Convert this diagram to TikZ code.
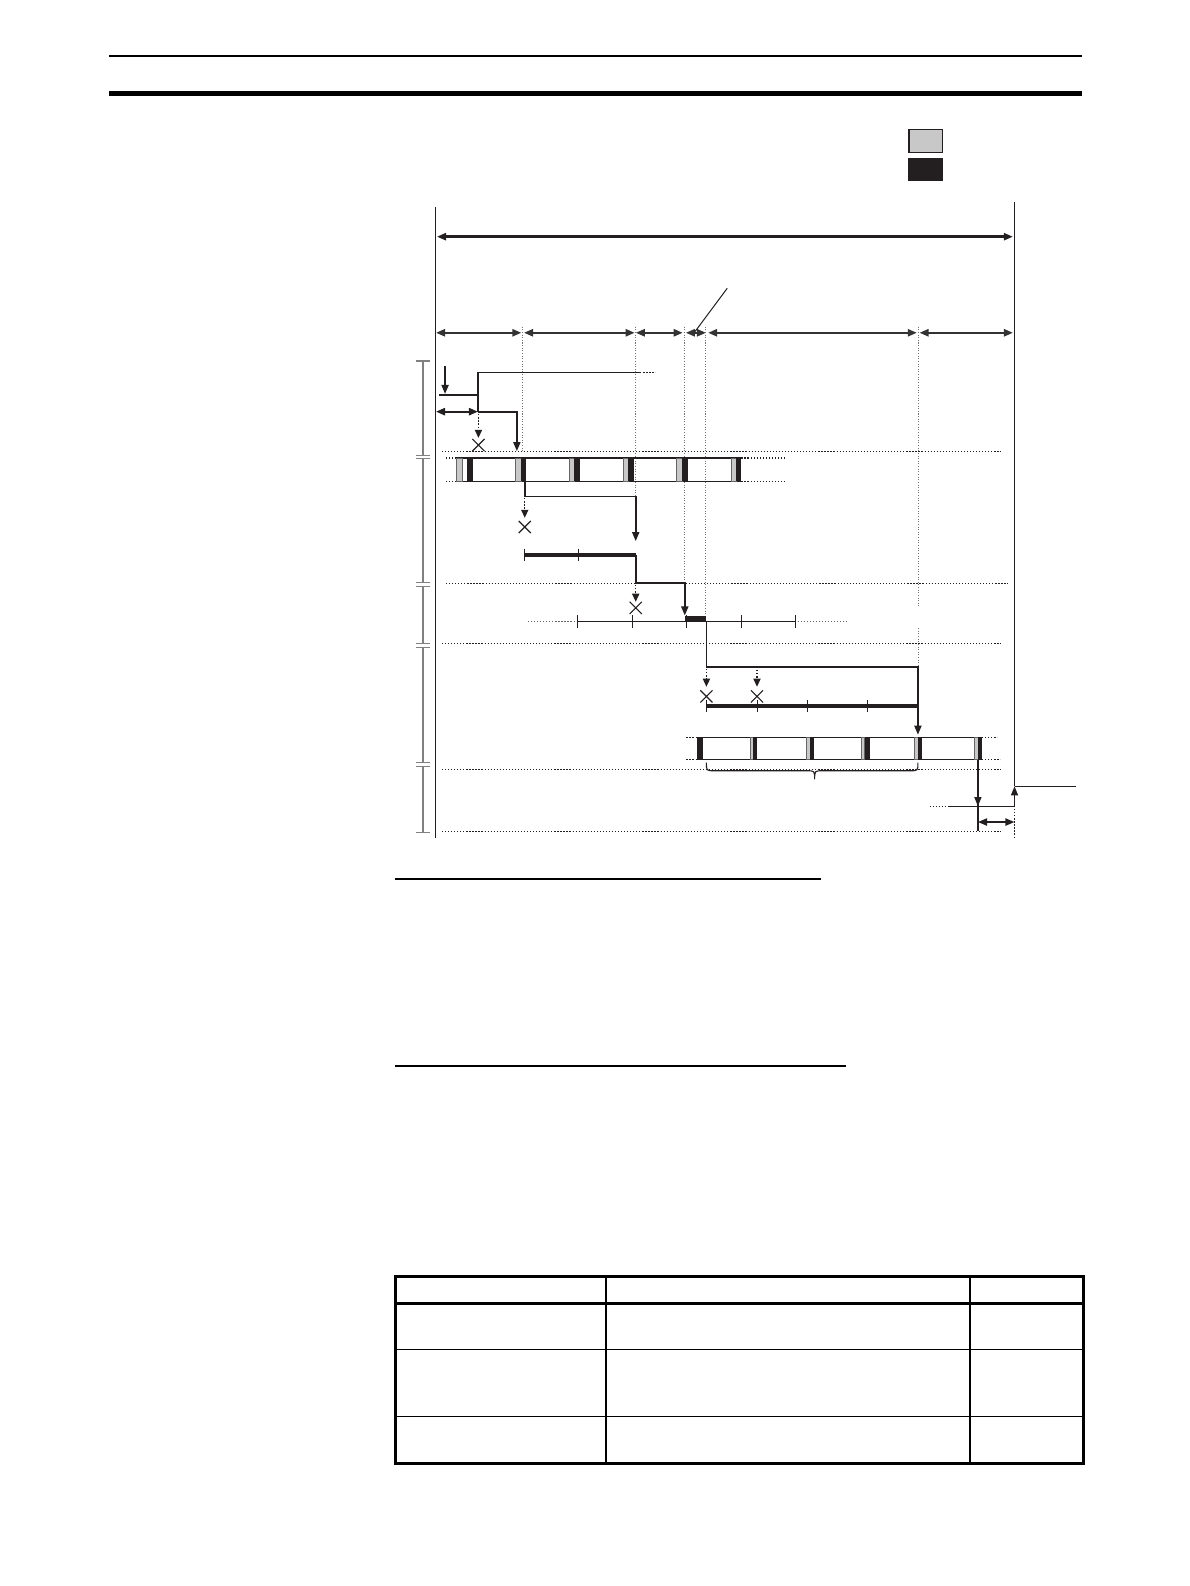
\documentclass[tikz,border=0pt]{standalone}
\usetikzlibrary{arrows.meta}
\definecolor{lgray}{HTML}{C8C8C8}
\definecolor{ink}{HTML}{231F20}
\tikzset{
  tipend/.style={-{Triangle[length=9pt,width=7pt]}},
  tipboth/.style={{Triangle[length=9pt,width=7pt]}-{Triangle[length=9pt,width=7pt]}},
  dimline/.style={line width=2.2pt, draw=black!80, tipboth},
  bigdim/.style={line width=2.4pt, draw=ink, tipboth},
  flow/.style={line width=1.8pt, draw=ink},
  thinline/.style={line width=1pt, draw=ink},
  guide/.style={draw=black!55, line width=0.8pt, dash pattern=on 1pt off 1.6pt},
  rowdot/.style={draw=ink, line width=1pt, dash pattern=on 1.2pt off 1.8pt},
  dotarrow/.style={draw=ink, line width=1.4pt, dash pattern=on 1.6pt off 1.6pt, -{Triangle[length=8pt,width=7pt]}},
  heavy/.style={line width=3.6pt, draw=ink},
  xmark/.style={line width=1.1pt, draw=ink},
  scalebar/.style={line width=1.4pt, draw=black!50},
  graystripe/.style={fill=lgray, draw=black!60, line width=0.3pt},
  blackstripe/.style={fill=ink},
}
\newcommand\xcross[2]{\draw[xmark] (#1-6,#2-6) -- (#1+6,#2+6) (#1-6,#2+6) -- (#1+6,#2-6);}
\newcommand\vtick[2]{\draw[thinline] (#1,#2-6) -- (#1,#2+6);}
\begin{document}
\begin{tikzpicture}[x=1pt,y=-1pt]
\useasboundingbox (0,0) rectangle (1176,1568);
% page header lines
\draw[line width=2pt] (108,55) -- (1070,55);
\draw[line width=5pt] (108,92) -- (1070,92);
% legend
\draw[fill=lgray, draw=ink, line width=1.2pt] (898.6,127.8) rectangle (931.6,150.9);
\fill[ink] (898,156.5) rectangle (932,178.9);
% frame verticals
\draw[thinline] (430.4,205) -- (430.4,828);
\draw[thinline] (1003,200) -- (1003,777.4);
\draw[rowdot] (1003,797) -- (1003,828);
% top dimension
\draw[bigdim] (432,234) -- (1001.4,234);
% leader
\draw[thinline] (719,285) -- (687,328);
% dimension row
\foreach \a/\b in {431/515.5, 518/627.5, 628.5/675, 678/698, 700/906.5, 909/1001.5}
  \draw[dimline] (\a,329) -- (\b,329);
% vertical guides
\draw[guide] (516,323) -- (516,447);
\draw[guide] (628.5,323) -- (628.5,490);
\draw[guide] (677,323) -- (677,576);
\draw[guide] (697.5,323) -- (697.5,612);
\draw[guide] (908,323) -- (908,601);
\draw[guide] (908,621) -- (908,660);
% left scale bar
\foreach \a/\b in {357/450, 453/576, 580/636, 640/754, 758/823}
  \draw[scalebar] (418,\a) -- (418,\b);
\foreach \y in {357,450,453,576,580,636,640,754,758,823}
  \draw[scalebar, line width=1.2pt] (411,\y) -- (425,\y);
% horizontal dotted rows
\draw[rowdot] (437,446.5) -- (990,446.5);
\draw[rowdot] (441,576.5) -- (997,576.5);
\draw[rowdot] (437,636.5) -- (990,636.5);
\draw[rowdot] (437,761) -- (990,761);
\draw[rowdot] (437,822) -- (990,822);
% row 1
\draw[flow, tipend] (440,362) -- (440,389.5);
\draw[thinline, line width=1.4pt] (434,390.7) -- (472.6,390.7);
\draw[thinline, line width=1.4pt] (472.6,368) -- (472.6,407);
\draw[thinline, line width=1.4pt] (472.6,368) -- (633,368);
\draw[rowdot] (633,368) -- (648,368);
\draw[dimline, draw=ink] (431,407) -- (472.6,407);
\draw[flow, tipend] (472.6,407) -- (511,407) -- (511,446);
\draw[dotarrow] (473,409) -- (473,433);
\xcross{473}{440}
% top bar
\draw[thinline] (451,452.8) -- (733,452.8) (451,475.6) -- (733,475.6);
\draw[rowdot] (441,452.8) -- (451,452.8) (441,475.6) -- (451,475.6);
\draw[rowdot] (733,452.8) -- (776,452.8) (733,475.6) -- (776,475.6);
\foreach \ga/\gb/\ba/\bb in {451.3/457.3/461.2/467.7, 509.6/515/515/520.4, 562.3/567.9/567.9/573.9, 615.7/621.3/621.3/626.6, 668.7/674.3/674.3/680.6, 722.4/727.4/727.4/733}{
  \filldraw[graystripe] (\ga,452.8) rectangle (\gb,475.6);
  \fill[blackstripe] (\ba,452.8) rectangle (\bb,475.6);
}
% row 2
\draw[flow, tipend] (518.8,475.6) -- (518.8,490.8) -- (628.5,490.8) -- (628.5,535);
\draw[dotarrow] (518.8,492) -- (518.8,512);
\xcross{518.8}{521}
\draw[heavy] (518.8,548.5) -- (628.5,548.5);
\vtick{518.8}{548.5}
\vtick{571.5}{548.5}
\draw[flow, tipend] (628.5,548.5) -- (628.5,576.5) -- (677,576.5) -- (677,608.5);
\draw[dotarrow] (628.5,578) -- (628.5,595);
\xcross{628.5}{601}
% row 3 timeline
\draw[rowdot, draw=black!60] (522,614.5) -- (571,614.5);
\draw[thinline] (571,614.5) -- (786.6,614.5);
\draw[rowdot, draw=black!60] (788.6,614.5) -- (836.7,614.5);
\foreach \x in {571,624.9,678.6,733,786.6} \vtick{\x}{614.5}
\fill[ink] (677.6,608.6) rectangle (698.4,615.3);
% row 4
\draw[flow, tipend] (698.4,615) -- (698.4,659.8) -- (907.5,659.8) -- (907.5,726.4);
\draw[dotarrow] (698.4,661) -- (698.4,679);
\xcross{698.4}{688.5}
\draw[dotarrow] (748.4,662) -- (748.4,679);
\xcross{748.4}{688.5}
\draw[heavy] (698.4,698) -- (907.5,698);
\foreach \x in {698.4,748.8,798,858} \vtick{\x}{698}
% bottom bar
\draw[thinline] (689,729) -- (971,729) (689,751) -- (971,751);
\draw[rowdot] (678.6,729) -- (689,729) (678.6,751) -- (689,751);
\draw[rowdot] (971,729) -- (986,729) (971,751) -- (989,751);
\fill[blackstripe] (689,729) rectangle (695,751);
\foreach \ga/\gb/\ba/\bb in {741.9/744.5/744.5/748.8, 797.2/800.5/800.5/805.1, 851.6/854.8/854.8/859.8, 903.6/907.5/907.5/911.8, 962.9/966.8/966.8/971.1}{
  \filldraw[graystripe] (\ga,729) rectangle (\gb,751);
  \fill[blackstripe] (\ba,729) rectangle (\bb,751);
}
% brace
\draw[thinline, line width=1.1pt] (698.4,754) .. controls (698.4,762) .. (706,762) -- (797.5,762) .. controls (805.4,762) .. (805.4,770.5) .. controls (805.4,762) .. (813.3,762) -- (900,762) .. controls (907.5,762) .. (907.5,754);
% bottom right
\draw[thinline, line width=1.3pt] (966.8,751) -- (966.8,822);
\draw[flow, line width=1.3pt, tipend] (966.8,751) -- (966.8,797);
\draw[thinline] (937,797) -- (1003,797);
\draw[rowdot] (919,797) -- (937,797);
\draw[dimline, draw=ink, line width=1.8pt] (966.8,812.7) -- (1003,812.7);
\draw[flow, line width=1.3pt, tipend] (1003,797) -- (1003,777.4);
\draw[thinline] (1003,777.4) -- (1064,777.4);
% underlines
\draw[line width=1.5pt] (391,869) -- (812,869);
\draw[line width=1.5pt] (391,1054) -- (836.7,1054);
% table
\draw[line width=1.5pt] (391,1334) -- (1071,1334);
\draw[line width=1.5pt] (391,1400.6) -- (1071,1400.6);
\draw[line width=1.5pt] (599,1262) -- (599,1447);
\draw[line width=1.5pt] (959,1262) -- (959,1447);
\draw[line width=3pt] (391,1288.5) -- (1071,1288.5);
\draw[line width=3pt] (391,1262) rectangle (1071,1447);
\end{tikzpicture}
\end{document}
